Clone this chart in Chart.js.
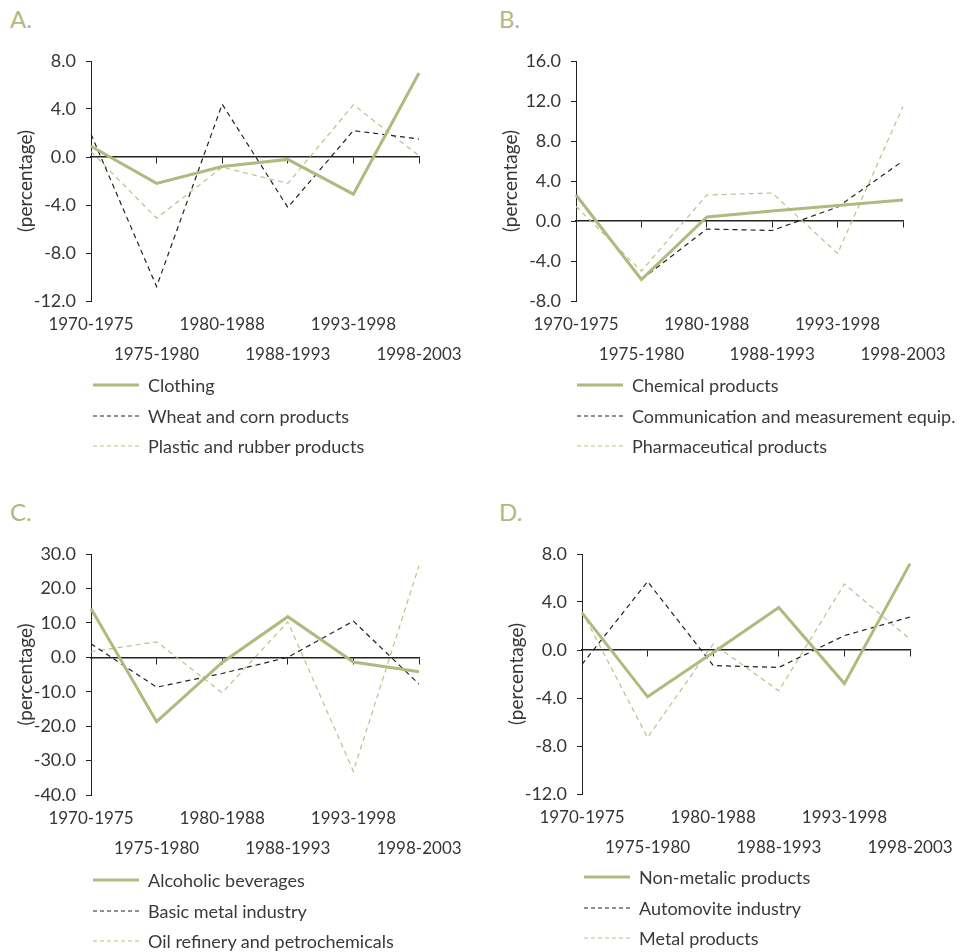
<!DOCTYPE html>
<html>
<head>
<meta charset="utf-8">
<script src="https://cdn.jsdelivr.net/npm/chart.js@4"></script>
<style>
  body { margin: 0; background: #fff; width: 963px; height: 952px; position: relative; overflow: hidden; font-family: Lato, sans-serif; color: #3a3a3a; }
  .letter { position: absolute; font-size: 24px; line-height: 28px; color: #b3b77f; }
  .chart-box { position: absolute; }
  .legend { position: absolute; font-size: 18px; }
  .legend-row { position: absolute; left: 0; height: 30px; display: flex; align-items: center; white-space: nowrap; }
</style>
</head>
<body>
<script>
// periods on the x axis
const periods = ['1970-1975', '1975-1980', '1980-1988', '1988-1993', '1993-1998', '1998-2003'];

// A.
const clothing = [0.9, -2.2, -0.8, -0.2, -3.1, 7.0];
const wheatCorn = [1.9, -10.8, 4.4, -4.2, 2.2, 1.5];
const plasticRubber = [0.45, -5.1, -0.85, -2.2, 4.35, 0.1];

// B.
const chemical = [2.6, -5.85, 0.4, 1.0, 1.55, 2.1];
const communication = [2.7, -5.85, -0.8, -0.95, 1.4, 6.0];
const pharmaceutical = [1.45, -5.0, 2.6, 2.8, -3.25, 11.45];

// C.
const alcoholic = [14.2, -18.7, -1.5, 11.8, -1.4, -4.2];
const basicMetal = [3.9, -8.7, -4.7, 0.0, 10.5, -7.8];
const oilRefinery = [1.6, 4.5, -10.3, 10.3, -33.1, 26.6];

// D.
const nonMetalic = [3.1, -3.9, -0.2, 3.55, -2.8, 7.2];
const automovite = [-1.2, 5.7, -1.3, -1.45, 1.2, 2.75];
const metalProducts = [3.2, -7.3, 0.5, -3.4, 5.5, 0.9];

// y ranges: min, max, step
const yRangeA = [-12, 8, 4];
const yRangeB = [-8, 16, 4];
const yRangeC = [-40, 30, 10];
const yRangeD = [-12, 8, 4];

const OLIVE = '#b3b87e';
const OLIVE_LIGHT = '#bcc08c';
const DARK = '#222';
const TEXT = '#363636';

// 线型
function solid(label, data) {
    return { label, data, borderColor: OLIVE, borderWidth: 3, borderDash: [] };
}
function darkDash(label, data) {
    return { label, data, borderColor: DARK, borderWidth: 1.2, borderDash: [5, 4] };
}
function lightDash(label, data) {
    return { label, data, borderColor: OLIVE_LIGHT, borderWidth: 1.2, borderDash: [5, 4] };
}

const panels = [
    { letter: 'A.', left: 0, top: 0, width: 480, plotTop: 61, plotBottom: 301, plotLeft: 91, plotRight: 419,
      titlePad: 14, range: yRangeA, legendLeft: 93, legendTop: 370,
      series: [solid('Clothing', clothing), darkDash('Wheat and corn products', wheatCorn), lightDash('Plastic and rubber products', plasticRubber)] },
    { letter: 'B.', left: 480, top: 0, width: 483, plotTop: 61, plotBottom: 301, plotLeft: 576, plotRight: 903,
      titlePad: 19, range: yRangeB, legendLeft: 577, legendTop: 370,
      series: [solid('Chemical products', chemical), darkDash('Communication and measurement equip.', communication), lightDash('Pharmaceutical products', pharmaceutical)] },
    { letter: 'C.', left: 0, top: 493, width: 480, plotTop: 554, plotBottom: 795, plotLeft: 91, plotRight: 419,
      titlePad: 14, range: yRangeC, legendLeft: 93, legendTop: 865,
      series: [solid('Alcoholic beverages', alcoholic), darkDash('Basic metal industry', basicMetal), lightDash('Oil refinery and petrochemicals', oilRefinery)] },
    { letter: 'D.', left: 480, top: 493, width: 483, plotTop: 554, plotBottom: 794, plotLeft: 582, plotRight: 910,
      titlePad: 25, range: yRangeD, legendLeft: 584, legendTop: 862,
      series: [solid('Non-metalic products', nonMetalic), darkDash('Automovite industry', automovite), lightDash('Metal products', metalProducts)] }
];

const font = { family: 'Lato', size: 17 };
const yTickFont = { family: 'Lato', size: 18 };

function makePanel(p, idx) {
    const letter = document.createElement('div');
    letter.className = 'letter';
    letter.textContent = p.letter;
    letter.style.left = (p.left + (idx % 2 ? 19 : 10)) + 'px';
    letter.style.top = (p.top + 5) + 'px';
    document.body.appendChild(letter);

    const labelsHeight = 75;
    const height = p.plotBottom - p.top + labelsHeight;
    const box = document.createElement('div');
    box.className = 'chart-box';
    box.style.left = p.left + 'px';
    box.style.top = p.top + 'px';
    box.style.width = p.width + 'px';
    box.style.height = height + 'px';
    const canvas = document.createElement('canvas');
    box.appendChild(canvas);
    document.body.appendChild(box);

    const chart = new Chart(canvas, {
        type: 'line',
        data: {
            labels: periods,
            datasets: p.series.map(s => Object.assign({ fill: false, pointRadius: 0, tension: 0 }, s))
        },
        options: {
            responsive: true,
            maintainAspectRatio: false,
            animation: false,
            layout: { padding: { top: p.plotTop - p.top, right: p.width - (p.plotRight - p.left), bottom: 0, left: 0 } },
            plugins: { legend: { display: false }, tooltip: { enabled: false } },
            scales: {
                x: {
                    position: { y: 0 },
                    ticks: { display: false },
                    grid: { display: true, drawOnChartArea: false, drawTicks: true, tickLength: 6, color: DARK },
                    border: { display: true, color: DARK, width: 1.5 }
                },
                xLabels: {
                    type: 'category',
                    position: 'bottom',
                    grid: { display: false, drawTicks: false },
                    border: { display: false },
                    ticks: {
                        autoSkip: false, maxRotation: 0, minRotation: 0, padding: 9, color: TEXT,
                        font: { family: 'Lato', size: 17, lineHeight: 1.765 },
                        // 交错两行
                        callback: function (v, i) {
                            const l = this.getLabelForValue(v);
                            return i % 2 ? ['', l] : l;
                        }
                    },
                    afterFit: s => { s.height = labelsHeight; }
                },
                y: {
                    min: p.range[0], max: p.range[1],
                    ticks: { stepSize: p.range[2], padding: 10, color: TEXT, font: yTickFont, callback: v => v.toFixed(1) },
                    grid: { drawOnChartArea: false, drawTicks: true, tickLength: 5, color: DARK },
                    border: { display: true, color: DARK, width: 1 },
                    title: { display: true, text: '(percentage)', color: TEXT, font: { family: 'Lato', size: 19 }, padding: { top: p.titlePad, bottom: 0 } },
                    afterFit: s => { s.width = p.plotLeft - p.left; }
                }
            }
        }
    });

    // 图例
    const lg = document.createElement('div');
    lg.className = 'legend';
    lg.style.left = p.legendLeft + 'px';
    lg.style.top = p.legendTop + 'px';
    chart.data.datasets.forEach((ds, i) => {
        const row = document.createElement('div');
        row.className = 'legend-row';
        row.style.top = (i * 30.5) + 'px';
        const dash = ds.borderDash.length ? ds.borderDash.map(d => d - 1).join(',') : 'none';
        row.innerHTML = `<svg width="46" height="6"><line x1="0" y1="3" x2="46" y2="3" stroke="${ds.borderColor}" stroke-width="${ds.borderWidth}" stroke-dasharray="${dash}"/></svg><span style="margin-left:9px">${ds.label}</span>`;
        lg.appendChild(row);
    });
    document.body.appendChild(lg);
}

panels.forEach(makePanel);
</script>
</body>
</html>
